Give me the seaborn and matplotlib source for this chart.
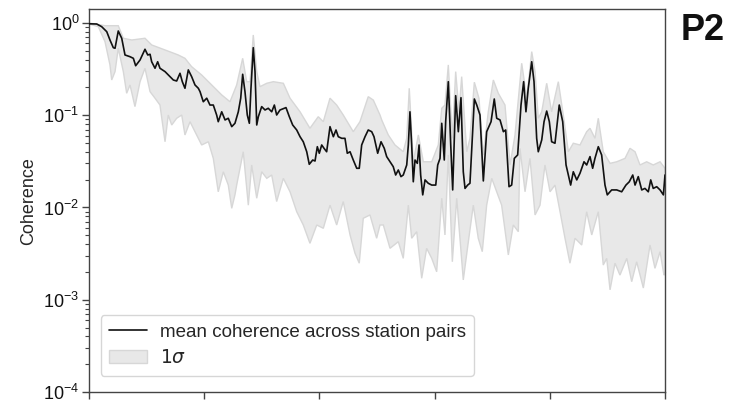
import numpy as np
import pandas as pd
import matplotlib
matplotlib.use("Agg")
import matplotlib.pyplot as plt
from matplotlib.ticker import LogLocator, NullFormatter, FixedLocator
import seaborn as sns

# ---------------- data ----------------
mean_x = [0.0, 0.067, 0.110, 0.154, 0.182, 0.211, 0.226, 0.254, 0.284, 0.3125, 0.356, 0.385, 0.405,
          0.443, 0.486, 0.510, 0.530, 0.544, 0.573, 0.596, 0.616, 0.660, 0.703, 0.732, 0.761, 0.790,
          0.810, 0.833, 0.862, 0.891, 0.920, 0.949, 0.964, 0.992, 1.022, 1.050, 1.079, 1.108, 1.122,
          1.152, 1.181, 1.209, 1.239, 1.267, 1.296, 1.317, 1.334, 1.354, 1.374, 1.392, 1.406, 1.426,
          1.441, 1.456, 1.470, 1.499, 1.528, 1.556, 1.586, 1.609, 1.629, 1.658, 1.710, 1.739, 1.768,
          1.803, 1.832, 1.860, 1.890, 1.912, 1.942, 1.962, 1.982, 1.999, 2.020, 2.040, 2.063, 2.092,
          2.121, 2.144, 2.164, 2.194, 2.222, 2.242, 2.266, 2.294, 2.324, 2.346, 2.367, 2.396, 2.424,
          2.454, 2.474, 2.506, 2.535, 2.563, 2.584, 2.613, 2.641, 2.662, 2.685, 2.708, 2.728, 2.758,
          2.772, 2.786, 2.801, 2.815, 2.830, 2.850, 2.865, 2.879, 2.897, 2.917, 2.945, 2.975, 3.010,
          3.027, 3.047, 3.062, 3.084, 3.096, 3.119, 3.140, 3.157, 3.183, 3.206, 3.229, 3.249, 3.264,
          3.287, 3.307, 3.345, 3.366, 3.394, 3.423, 3.452, 3.490, 3.518, 3.539, 3.568, 3.597, 3.617,
          3.646, 3.669, 3.692, 3.721, 3.750, 3.773, 3.793, 3.813, 3.843, 3.863, 3.886, 3.900, 3.930,
          3.950, 3.973, 3.996, 4.016, 4.045, 4.082, 4.112, 4.141, 4.161, 4.181, 4.204, 4.234, 4.262,
          4.297, 4.320, 4.349, 4.372, 4.392, 4.421, 4.450, 4.479, 4.499, 4.537, 4.581, 4.624, 4.661,
          4.690, 4.720, 4.740, 4.768, 4.798, 4.826, 4.855, 4.876, 4.898, 4.928, 4.957, 4.986, 5.0]
mean_coh = [0.98, 0.975, 0.912, 0.805, 0.654, 0.540, 0.532, 0.819, 0.683, 0.450, 0.431, 0.414, 0.344,
            0.397, 0.519, 0.450, 0.458, 0.380, 0.323, 0.380, 0.323, 0.297, 0.262, 0.241, 0.235, 0.285,
            0.231, 0.196, 0.310, 0.262, 0.213, 0.196, 0.180, 0.140, 0.153, 0.129, 0.129, 0.1006, 0.0851,
            0.109, 0.0889, 0.0927, 0.0752, 0.0818, 0.109, 0.153, 0.278, 0.180, 0.1006, 0.0818, 0.196, 0.540,
            0.297, 0.0784, 0.0964, 0.124, 0.114, 0.119, 0.109, 0.129, 0.1006, 0.114, 0.121, 0.0964, 0.0784,
            0.0692, 0.0585, 0.0516, 0.0402, 0.0294, 0.0327, 0.0319, 0.0456, 0.0387, 0.0476, 0.0438, 0.0402, 0.0752,
            0.0585, 0.0692, 0.0585, 0.0562, 0.0562, 0.0387, 0.0402, 0.0327, 0.0266, 0.0266, 0.0476, 0.0585, 0.0692,
            0.0663, 0.0585, 0.0387, 0.0516, 0.0438, 0.0356, 0.0313, 0.0277, 0.0225, 0.0255, 0.0216, 0.0225, 0.0289,
            0.0476, 0.109, 0.0476, 0.0190, 0.0327, 0.0301, 0.0476, 0.0225, 0.0137, 0.0199, 0.0183, 0.0175, 0.0175,
            0.0289, 0.0341, 0.0818, 0.0327, 0.0851, 0.231, 0.0476, 0.0155, 0.163, 0.0663, 0.155, 0.0244, 0.0161,
            0.0175, 0.0183, 0.150, 0.129, 0.1006, 0.0194, 0.0663, 0.0851, 0.150, 0.0927, 0.0889, 0.0663, 0.0692,
            0.0168, 0.0175, 0.0341, 0.0371, 0.129, 0.231, 0.109, 0.196, 0.380, 0.231, 0.0562, 0.0402, 0.0540,
            0.0851, 0.111, 0.0851, 0.0516, 0.0497, 0.129, 0.0851, 0.0289, 0.0225, 0.0175, 0.0244, 0.0199, 0.0235,
            0.0313, 0.0289, 0.0356, 0.0266, 0.0341, 0.0456, 0.0371, 0.0175, 0.0137, 0.0155, 0.0155, 0.0148, 0.0175,
            0.0190, 0.0225, 0.0175, 0.0216, 0.0155, 0.0161, 0.0148, 0.0199, 0.0161, 0.0168, 0.0155, 0.0137, 0.0225]

upper_x = [0.0, 0.139, 0.254, 0.298, 0.371, 0.486, 0.544, 0.660, 0.775, 0.833, 0.891, 0.978, 1.065,
           1.152, 1.224, 1.282, 1.334, 1.369, 1.398, 1.426, 1.456, 1.484, 1.543, 1.600, 1.687, 1.745,
           1.832, 1.918, 1.990, 2.034, 2.092, 2.150, 2.207, 2.294, 2.352, 2.424, 2.468, 2.526, 2.541,
           2.598, 2.656, 2.728, 2.758, 2.780, 2.815, 2.859, 2.902, 2.975, 3.032, 3.062, 3.090, 3.119,
           3.154, 3.183, 3.212, 3.235, 3.279, 3.307, 3.345, 3.385, 3.423, 3.466, 3.510, 3.553, 3.611,
           3.655, 3.698, 3.756, 3.800, 3.843, 3.872, 3.900, 3.930, 3.973, 4.016, 4.074, 4.117, 4.161,
           4.204, 4.262, 4.320, 4.349, 4.392, 4.421, 4.464, 4.523, 4.581, 4.653, 4.696, 4.740, 4.783,
           4.841, 4.898, 4.957, 5.0]
upper_coh = [1.0, 0.935, 0.935, 0.683, 0.654, 0.683, 0.578, 0.510, 0.450, 0.414, 0.336, 0.273, 0.213,
             0.166, 0.140, 0.213, 0.414, 0.231, 0.231, 0.741, 0.297, 0.204, 0.222, 0.231, 0.222, 0.153,
             0.109, 0.0722, 0.0964, 0.0851, 0.153, 0.129, 0.1006, 0.0663, 0.0851, 0.159, 0.146, 0.1006, 0.0889,
             0.0611, 0.0476, 0.0402, 0.0562, 0.196, 0.0313, 0.0611, 0.0313, 0.0313, 0.0476, 0.119, 0.129, 0.351,
             0.0562, 0.297, 0.109, 0.262, 0.0402, 0.0562, 0.228, 0.153, 0.0371, 0.109, 0.241, 0.173, 0.129,
             0.0289, 0.0611, 0.366, 0.153, 0.489, 0.297, 0.0927, 0.109, 0.222, 0.109, 0.231, 0.1006, 0.0402,
             0.0497, 0.0476, 0.0663, 0.0722, 0.0562, 0.0927, 0.0402, 0.0301, 0.0313, 0.0341, 0.0438, 0.0402, 0.0289,
             0.0313, 0.0289, 0.0313, 0.0266]

lower_x = [0.0, 0.081, 0.139, 0.182, 0.197, 0.226, 0.254, 0.298, 0.327, 0.356, 0.399, 0.443, 0.486,
           0.530, 0.573, 0.616, 0.660, 0.688, 0.718, 0.761, 0.805, 0.833, 0.877, 0.920, 0.978, 1.036,
           1.079, 1.122, 1.166, 1.209, 1.239, 1.267, 1.282, 1.339, 1.383, 1.412, 1.456, 1.499, 1.543,
           1.586, 1.629, 1.687, 1.745, 1.803, 1.860, 1.918, 1.977, 2.034, 2.092, 2.150, 2.207, 2.266,
           2.309, 2.346, 2.381, 2.439, 2.497, 2.526, 2.555, 2.613, 2.685, 2.728, 2.772, 2.801, 2.845,
           2.888, 2.931, 2.975, 3.018, 3.062, 3.090, 3.119, 3.154, 3.192, 3.220, 3.249, 3.293, 3.336,
           3.379, 3.414, 3.452, 3.496, 3.539, 3.582, 3.640, 3.683, 3.727, 3.741, 3.785, 3.828, 3.872,
           3.915, 3.958, 4.002, 4.045, 4.089, 4.132, 4.175, 4.219, 4.277, 4.320, 4.364, 4.421, 4.464,
           4.494, 4.523, 4.566, 4.609, 4.668, 4.711, 4.754, 4.812, 4.870, 4.913, 4.957, 4.991, 5.0]
lower_coh = [0.975, 0.912, 0.627, 0.351, 0.241, 0.297, 0.532, 0.297, 0.173, 0.213, 0.124, 0.231, 0.323,
             0.180, 0.153, 0.129, 0.0516, 0.1006, 0.0784, 0.0927, 0.1006, 0.0611, 0.0851, 0.0663, 0.0476, 0.0516,
             0.0341, 0.0148, 0.0244, 0.0175, 0.0098, 0.0137, 0.0175, 0.0402, 0.0106, 0.0289, 0.0126, 0.0244, 0.0207,
             0.0225, 0.0116, 0.0207, 0.0148, 0.0090, 0.00646, 0.00409, 0.00646, 0.00595, 0.0106, 0.00646, 0.0116, 0.00504,
             0.00319, 0.00249, 0.00764, 0.0083, 0.00464, 0.00646, 0.00646, 0.00361, 0.00426, 0.00281, 0.0106, 0.00464, 0.00547,
             0.00171, 0.00361, 0.00281, 0.00201, 0.0126, 0.00504, 0.0371, 0.00258, 0.0126, 0.00464, 0.00164, 0.00426, 0.0106,
             0.00464, 0.00332, 0.0106, 0.0207, 0.0148, 0.0106, 0.00306, 0.00646, 0.00547, 0.0438, 0.0148, 0.0341, 0.0083,
             0.0106, 0.0289, 0.0148, 0.0175, 0.0090, 0.00464, 0.00249, 0.00464, 0.00392, 0.0090, 0.00504, 0.0090, 0.00238,
             0.00281, 0.00128, 0.00249, 0.00185, 0.00281, 0.00157, 0.00258, 0.00134, 0.00392, 0.00219, 0.00332, 0.00185, 0.0019]

x_ticks = [0, 1, 2, 3, 4, 5]
y_label = "Coherence"
line_label = "mean coherence across station pairs"
band_label = r"$1\sigma$"
panel_label = "P2"

# ---------------- style ----------------
sns.set_style("ticks")
plt.rcParams["font.family"] = ["Liberation Sans", "DejaVu Sans"]
plt.rcParams["mathtext.fontset"] = "dejavusans"
spine_col = "#444444"

fig = plt.figure(figsize=(7.31, 4.01), dpi=100)
ax = fig.add_axes([89 / 731, 9 / 401, (665 - 89) / 731, (392 - 9.5) / 401])

df_mean = pd.DataFrame({"x": mean_x, "coh": mean_coh})

band_poly_x = np.concatenate([upper_x, lower_x[::-1]])
band_poly_y = np.concatenate([upper_coh, lower_coh[::-1]])
band = ax.fill(band_poly_x, band_poly_y, facecolor="#e8e8e8", edgecolor="#d7d7d7",
               linewidth=1.0, label=band_label, zorder=1)[0]

sns.lineplot(data=df_mean, x="x", y="coh", color="#111111", linewidth=1.2,
             ax=ax, label=line_label, zorder=3)
line = ax.lines[-1]

ax.set_yscale("log")
ax.set_ylim(1e-4, 1.4)
ax.set_xlim(0, 5)
ax.xaxis.set_major_locator(FixedLocator(x_ticks))
ax.set_xticklabels([])
ax.set_xlabel("")
ax.set_ylabel(y_label, fontsize=13, labelpad=4)
ax.yaxis.set_major_locator(LogLocator(base=10, numticks=10))
ax.yaxis.set_minor_locator(LogLocator(base=10, subs=np.arange(2, 10), numticks=20))
ax.yaxis.set_minor_formatter(NullFormatter())

for s in ax.spines.values():
    s.set_visible(True)
    s.set_color(spine_col)
    s.set_linewidth(1.0)
ax.tick_params(axis="both", which="major", direction="out", length=5, width=1,
               color=spine_col, labelsize=13, labelcolor="#111111", pad=2)
ax.tick_params(axis="y", which="minor", direction="out", length=3, width=0.8, color=spine_col)

leg = ax.legend(handles=[line, band], labels=[line_label, band_label],
                loc="lower left", fontsize=13.5, frameon=True, fancybox=True,
                handlelength=2.0, handletextpad=0.7, borderpad=0.45, labelspacing=0.45,
                bbox_to_anchor=(0.004, 0.018))
leg.get_frame().set_edgecolor("#cccccc")
leg.get_frame().set_linewidth(1.0)

fig.text(703 / 731, 1 - 30 / 401, panel_label, fontsize=26, fontweight="bold",
         ha="center", va="center", color="#111111")

fig.savefig("out.png", dpi=100)
